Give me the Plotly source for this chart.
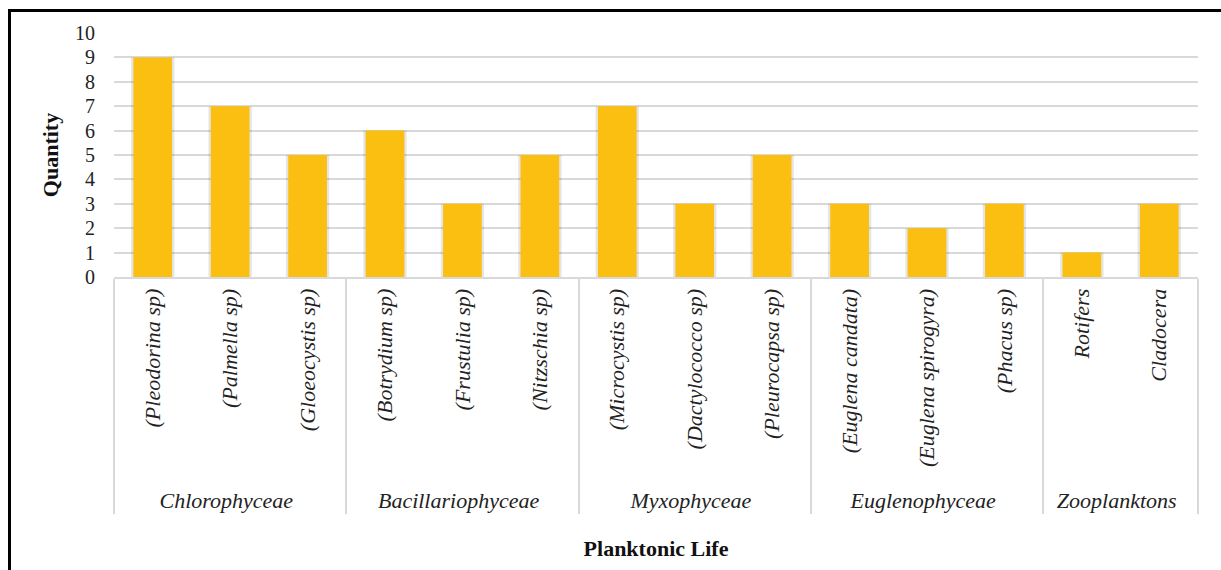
import plotly.graph_objects as go

# Plankton counts grouped by class
groups = ["Chlorophyceae"] * 3 + ["Bacillariophyceae"] * 3 + ["Myxophyceae"] * 3 \
    + ["Euglenophyceae"] * 3 + ["Zooplanktons"] * 2
species = [
    "(Pleodorina sp)", "(Palmella sp)", "(Gloeocystis sp)",
    "(Botrydium sp)", "(Frustulia sp)", "(Nitzschia sp)",
    "(Microcystis sp)", "(Dactylococco sp)", "(Pleurocapsa sp)",
    "(Euglena candata)", "(Euglena spirogyra)", "(Phacus sp)",
    "Rotifers", "Cladocera",
]
quantity = [9, 7, 5, 6, 3, 5, 7, 3, 5, 3, 2, 3, 1, 3]
y_ticks = list(range(0, 11))

FONT = "Liberation Serif"

W, H = 1221, 570
L, R, T, B = 114, 23, 33, 293
pw, ph = W - L - R, H - T - B


def px_to_paper_x(px):
    return (px - L) / pw


def px_to_paper_y(py):
    return (H - B - py) / ph


fig = go.Figure()

# soft shadow behind the bars
fig.add_trace(go.Bar(
    x=[groups, species], y=quantity,
    width=0.56,
    marker=dict(color="rgba(0,0,0,0.10)", line=dict(width=0)),
    hoverinfo="skip", showlegend=False,
))
fig.add_trace(go.Bar(
    x=[groups, species], y=quantity,
    width=0.5,
    marker=dict(color="#FBBF12", line=dict(width=0)),
    showlegend=False,
))

fig.update_layout(
    width=W, height=H,
    margin=dict(l=L, r=R, t=T, b=B, autoexpand=False),
    paper_bgcolor="white", plot_bgcolor="white",
    barmode="overlay",
    font=dict(family=FONT, color="#222222"),
    xaxis=dict(
        type="multicategory",
        showline=True, linecolor="#D9D9D9", linewidth=2,
        showgrid=False, ticks="",
        showdividers=True, dividercolor="#D9D9D9", dividerwidth=2,
        tickangle=-90,
        tickfont=dict(family=FONT, size=22, style="italic", color="#222222"),
        ticklabelstandoff=1,
        title=dict(text="<b>Planktonic Life</b>",
                   font=dict(family=FONT, size=22, color="#111111"),
                   standoff=29),
        automargin=False,
    ),
    yaxis=dict(
        range=[0, 10], tickvals=y_ticks,
        showgrid=True, gridcolor="#D9D9D9", gridwidth=2,
        zeroline=False, showline=False, ticks="",
        tickfont=dict(family=FONT, size=20, color="#222222"),
        ticklabelstandoff=18,
        title=dict(text="<b>Quantity</b>",
                   font=dict(family=FONT, size=22, color="#111111"),
                   standoff=10),
        automargin=False,
    ),
    shapes=[dict(
        type="rect", xref="paper", yref="paper",
        x0=px_to_paper_x(9.5), x1=px_to_paper_x(W + 10),
        y0=px_to_paper_y(H + 10), y1=px_to_paper_y(10.5),
        line=dict(color="black", width=3), fillcolor="rgba(0,0,0,0)",
        layer="above",
    )],
)

fig.write_html("out.html")
